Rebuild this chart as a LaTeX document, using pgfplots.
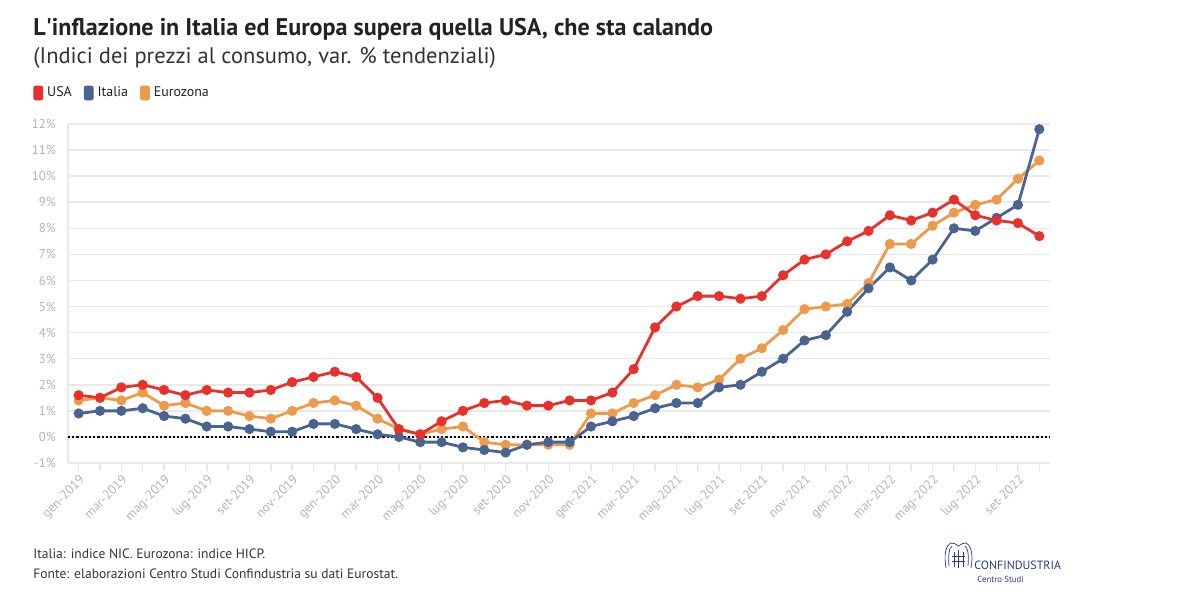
\documentclass[border=0pt]{standalone}
\usepackage{fontspec}
\setmainfont{PT Sans}
\usepackage{pgfplots}
\usepackage{pgfplotstable}
\pgfplotsset{compat=1.18}
\definecolor{usa}{HTML}{E8312A}
\definecolor{ita}{HTML}{4A6491}
\definecolor{eur}{HTML}{EE9A4D}
\definecolor{gridc}{HTML}{E9E9E9}
\definecolor{tickc}{HTML}{B4B4B4}
\definecolor{txt}{HTML}{222222}
\definecolor{sub}{HTML}{333333}
\definecolor{logo}{HTML}{2B3990}

\pgfplotstableread{
x usa ita eur
0 1.6 0.9 1.4
1 1.5 1.0 1.5
2 1.9 1.0 1.4
3 2.0 1.1 1.7
4 1.8 0.8 1.2
5 1.6 0.7 1.3
6 1.8 0.4 1.0
7 1.7 0.4 1.0
8 1.7 0.3 0.8
9 1.8 0.2 0.7
10 2.1 0.2 1.0
11 2.3 0.5 1.3
12 2.5 0.5 1.4
13 2.3 0.3 1.2
14 1.5 0.1 0.7
15 0.3 0.0 0.3
16 0.1 -0.2 0.1
17 0.6 -0.2 0.3
18 1.0 -0.4 0.4
19 1.3 -0.5 -0.2
20 1.4 -0.6 -0.3
21 1.2 -0.3 -0.3
22 1.2 -0.2 -0.3
23 1.4 -0.2 -0.3
24 1.4 0.4 0.9
25 1.7 0.6 0.9
26 2.6 0.8 1.3
27 4.2 1.1 1.6
28 5.0 1.3 2.0
29 5.4 1.3 1.9
30 5.4 1.9 2.2
31 5.3 2.0 3.0
32 5.4 2.5 3.4
33 6.2 3.0 4.1
34 6.8 3.7 4.9
35 7.0 3.9 5.0
36 7.5 4.8 5.1
37 7.9 5.7 5.9
38 8.5 6.5 7.4
39 8.3 6.0 7.4
40 8.6 6.8 8.1
41 9.1 8.0 8.6
42 8.5 7.9 8.9
43 8.3 8.4 9.1
44 8.2 8.9 9.9
45 7.7 11.8 10.6
}\datatab

\begin{document}
\begin{tikzpicture}
\path (0,0) rectangle (600bp,-303bp);
\begin{axis}[
  at={(34bp,-231.5bp)}, anchor=south west,
  scale only axis, width=491bp, height=169.5bp,
  xmin=-0.5, xmax=45.5, ymin=-1, ymax=12,
  axis x line*=bottom, axis y line*=left,
  axis line style={gridc, line width=0.75bp, -},
  ytick={-1,0,...,12},
  yticklabels={-1\%,0\%,1\%,2\%,3\%,4\%,5\%,6\%,7\%,8\%,9\%,10\%,11\%,12\%},
  ytick style={draw=none},
  ymajorgrids, grid style={gridc, line width=0.75bp},
  xtick={0,2,...,44},
  minor xtick={1,3,...,45},
  xticklabels={gen-2019,mar-2019,mag-2019,lug-2019,set-2019,nov-2019,gen-2020,mar-2020,mag-2020,lug-2020,set-2020,nov-2020,gen-2021,mar-2021,mag-2021,lug-2021,set-2021,nov-2021,gen-2022,mar-2022,mag-2022,lug-2022,set-2022},
  tick align=outside, major tick length=4bp, minor tick length=4bp,
  xtick style={gridc, line width=0.75bp},
  minor x tick style={gridc, line width=0.75bp},
  xticklabel style={rotate=45, anchor=north east, font=\fontsize{6.5}{7}\selectfont, text=tickc, inner sep=1bp},
  yticklabel style={font=\fontsize{6.5}{7}\selectfont, text=tickc, xshift=1.5bp},
  clip=false,
  legend columns=-1,
  legend style={at={(0,1)}, anchor=west, xshift=-17.5bp, yshift=15.5bp, draw=none, fill=none,
    font=\fontsize{7}{8}\selectfont, text=txt, inner sep=0pt,
    /tikz/every even column/.append style={column sep=4bp}},
  legend image code/.code={\fill[#1, rounded corners=1bp] (0bp,-3.5bp) rectangle (4.5bp,3.5bp);},
]
\addplot[black, densely dotted, line width=1.1bp, forget plot] coordinates {(-0.5,0) (45.5,0)};
\addplot[eur, line width=1.4bp, mark=*, mark size=1.8bp, forget plot] table[x=x, y=eur] {\datatab};
\addplot[ita, line width=1.4bp, mark=*, mark size=1.8bp, forget plot] table[x=x, y=ita] {\datatab};
\addplot[usa, line width=1.4bp, mark=*, mark size=1.8bp, forget plot] table[x=x, y=usa] {\datatab};
\addlegendimage{usa}\addlegendentry{USA}
\addlegendimage{ita}\addlegendentry{Italia}
\addlegendimage{eur}\addlegendentry{Eurozona}
\end{axis}
\node[anchor=base west, inner sep=0pt, text=txt] at (16.5bp,-17.5bp) {\fontsize{12.1}{14}\selectfont\bfseries L\textquotesingle inflazione in Italia ed Europa supera quella USA, che sta calando};
\node[anchor=base west, inner sep=0pt, text=sub] at (16.5bp,-31.5bp) {\fontsize{11.3}{14}\selectfont (Indici dei prezzi al consumo, var. \% tendenziali)};
\node[anchor=base west, inner sep=0pt, text=sub] at (16.5bp,-279bp) {\fontsize{6.8}{8}\selectfont Italia: indice NIC. Eurozona: indice HICP.};
\node[anchor=base west, inner sep=0pt, text=sub] at (16.5bp,-289bp) {\fontsize{6.8}{8}\selectfont Fonte: elaborazioni Centro Studi Confindustria su dati Eurostat.};
% logo emblem (decorative)
\begin{scope}[logo, line width=0.35bp]
  \draw (473bp,-284bp) .. controls (472bp,-278bp) and (472.5bp,-273bp) .. (475.5bp,-271.5bp)
        .. controls (477bp,-271bp) and (478bp,-272.5bp) .. (479.25bp,-273bp)
        .. controls (480.5bp,-272.5bp) and (481.5bp,-271bp) .. (483bp,-271.5bp)
        .. controls (486bp,-273bp) and (486.5bp,-278bp) .. (485.5bp,-284bp);
  \draw (474.5bp,-283bp) .. controls (474bp,-278bp) and (474.5bp,-274bp) .. (476bp,-273bp);
  \draw (484bp,-283bp) .. controls (484.5bp,-278bp) and (484bp,-274bp) .. (482.5bp,-273bp);
  \draw (477bp,-283.5bp) -- (477bp,-276bp) (479.25bp,-284bp) -- (479.25bp,-275bp) (481.5bp,-283.5bp) -- (481.5bp,-276bp);
  \draw (476bp,-278bp) -- (482.5bp,-278bp) (476bp,-280.5bp) -- (482.5bp,-280.5bp);
\end{scope}
\node[anchor=base west, inner sep=0pt, text=logo] at (487bp,-284.5bp) {\fontsize{6}{7}\selectfont CONFINDUSTRIA};
\node[anchor=base west, inner sep=0pt, text=logo] at (488.5bp,-291bp) {\fontsize{4.4}{5}\selectfont Centro Studi};
\end{tikzpicture}
\end{document}
